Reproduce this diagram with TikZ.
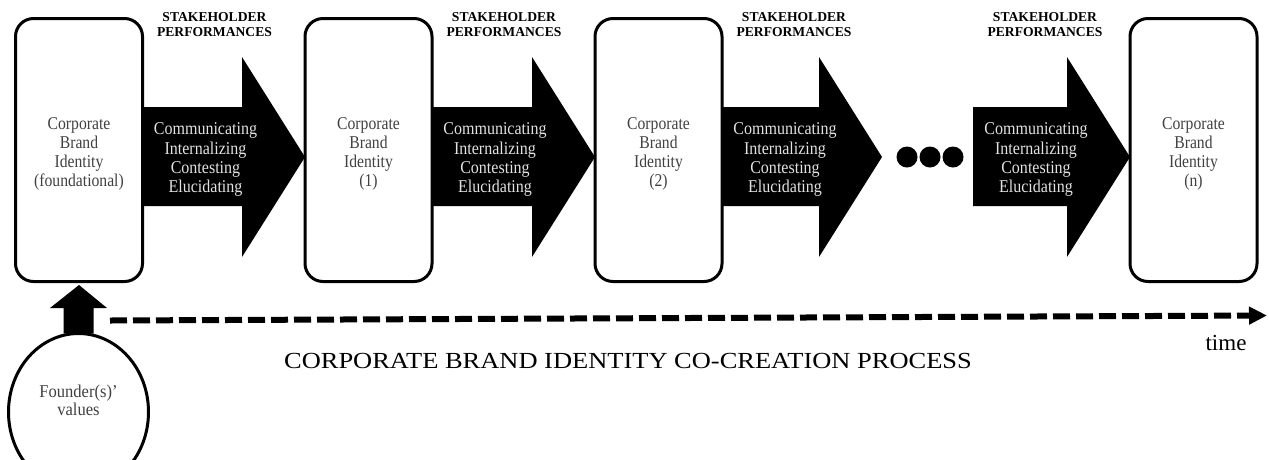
\documentclass[tikz,border=0pt]{standalone}
\usepackage{fontspec}
\setmainfont{Liberation Serif}
\usetikzlibrary{calc,arrows.meta,shapes.geometric}
\definecolor{boxtext}{HTML}{404040}
\definecolor{arrtext}{HTML}{E2E2E2}
\newcommand{\sqz}[2]{\scalebox{#1}[1]{\begin{tabular}{@{}c@{}}#2\end{tabular}}}
\newcommand{\boxtxt}[1]{\raisebox{-4pt}[\height][\depth]{\sqz{0.87}{#1}}}
\tikzset{
 cbi/.style={draw=black, line width=3pt, rounded corners=18pt, minimum width=127pt, minimum height=263pt, inner sep=0pt, outer sep=0pt, align=center, text=boxtext, font=\fontsize{18}{19}\selectfont},
 arrtxt/.style={align=center, text=arrtext, font=\fontsize{18}{19.3}\selectfont, inner sep=0pt},
 hdr/.style={align=center, font=\bfseries\fontsize{13.6}{15}\selectfont, inner sep=0pt},
 dotnode/.style={circle, fill=black, minimum size=21pt, inner sep=0pt},
 blockfill/.style={fill=black},
 founder/.style={ellipse, draw=black, line width=3pt, minimum width=140pt, minimum height=157pt, inner sep=0pt, outer sep=0pt, align=center, text=boxtext, font=\fontsize{18}{18.5}\selectfont},
 timeline/.style={line width=6pt, dash pattern=on 17pt off 6pt, -{Triangle[length=18pt,width=17pt]}},
}
\newcommand{\blockarr}[3]{%
 \fill[blockfill] ($#1+(0,-43)$) -- ($#2+(-63,-43)$) -- ($#2+(-63,-93)$) -- ($#2+(0,7)$) -- ($#2+(-63,107)$) -- ($#2+(-63,56)$) -- ($#1+(0,56)$) -- cycle;
 \node[arrtxt] (#3t) at ($#1+(63,10)$) {\sqz{0.89}{Communicating\\Internalizing\\Contesting\\Elucidating}};
 \node[hdr] (#3h) at ($#1+(72,-125)$) {STAKEHOLDER\\PERFORMANCES};}
\begin{document}
\begin{tikzpicture}[x=1pt,y=-1pt]
\useasboundingbox (0,0) rectangle (1269,459);
\node[cbi] (b0) at (79,150) {\boxtxt{Corporate\\Brand\\Identity\\(foundational)}};
\node[cbi] (b1) at (368.5,150) {\boxtxt{Corporate\\Brand\\Identity\\(1)}};
\node[cbi] (b2) at (658.5,150) {\boxtxt{Corporate\\Brand\\Identity\\(2)}};
\node[cbi] (bn) at (1193.5,150) {\boxtxt{Corporate\\Brand\\Identity\\(n)}};
\node[dotnode] (d1) at (907,157) {};
\node[dotnode] (d2) at (930,157) {};
\node[dotnode] (d3) at (953,157) {};
\coordinate (t3) at (882,150);
\coordinate (s4) at (973,150);
\blockarr{(b0.east)}{(b1.west)}{a1}
\blockarr{(b1.east)}{(b2.west)}{a2}
\blockarr{(b2.east)}{(t3)}{a3}
\blockarr{(s4)}{(bn.west)}{a4}
\node[founder] (f) at (78.5,412) {\raisebox{9pt}[\height][\depth]{\sqz{0.92}{Founder(s)’\\values}}};
\fill[blockfill] ($(f.north)+(-15,0)$) -- ($(f.north)+(-15,-25.5)$) -- ($(f.north)+(-28.5,-25.5)$) -- ($(b0.south)+(0,3.5)$) -- ($(f.north)+(28.5,-25.5)$) -- ($(f.north)+(15,-25.5)$) -- ($(f.north)+(15,0)$) -- cycle;
\coordinate (tstart) at (110,320.5);
\coordinate (tend) at (1267,315.5);
\draw[timeline] (tstart) -- (tend);
\node[inner sep=0pt] (time) at (1226,343) {\fontsize{23}{23}\selectfont time};
\node[inner sep=0pt] (cap) at (628,361) {\scalebox{1.15}[1]{\fontsize{23}{23}\selectfont CORPORATE BRAND IDENTITY CO-CREATION PROCESS}};
\end{tikzpicture}
\end{document}
